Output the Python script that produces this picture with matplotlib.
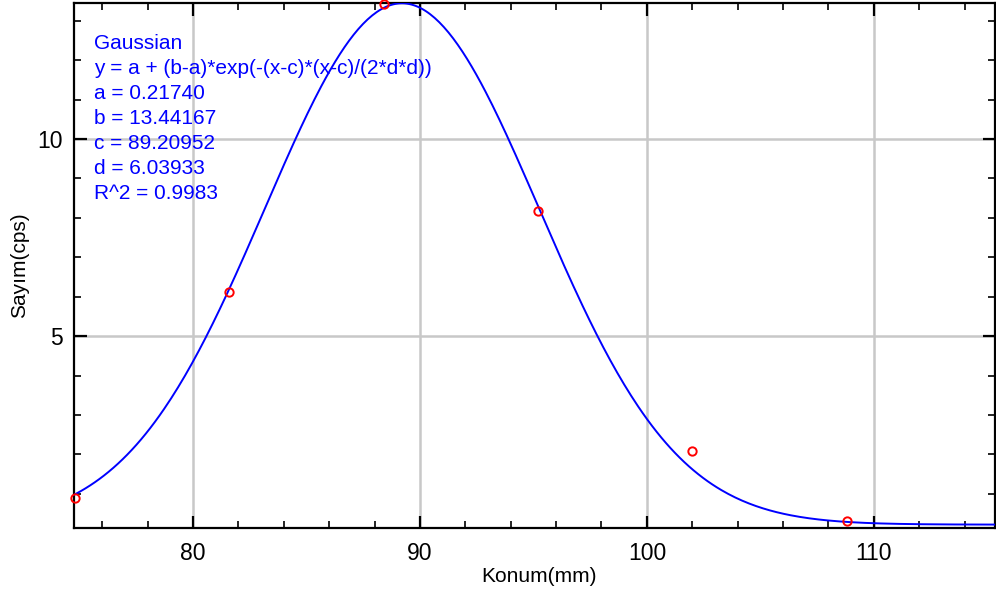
import numpy as np
import matplotlib.pyplot as plt
from matplotlib.ticker import MultipleLocator

plt.rcParams['font.family'] = ['Liberation Sans', 'DejaVu Sans']

# olculen noktalar
konum = [74.8, 81.6, 88.4, 95.2, 102.0, 108.8]
sayim = [0.88, 6.12, 13.43, 8.17, 2.08, 0.30]

# fit parametreleri (grafikteki kutudan)
a, b, c, d = 0.21740, 13.44167, 89.20952, 6.03933
r2 = 0.9983

fig = plt.figure(figsize=(9.96, 5.94), dpi=100)
ax = fig.add_axes([0.0743, 0.111, 0.925, 0.884])

x = np.linspace(74.76, 115.4, 400)
y = a + (b - a) * np.exp(-(x - c) * (x - c) / (2 * d * d))
ax.plot(x, y, color='#0000ff', lw=1.4, zorder=3)
ax.plot(konum, sayim, 'o', mfc='none', mec='#ff0000', ms=6, mew=1.4,
        zorder=4, clip_on=False)

ax.set_xlim(74.76, 115.35)
ax.set_ylim(0.13, 13.45)
ax.xaxis.set_major_locator(MultipleLocator(10))
ax.xaxis.set_minor_locator(MultipleLocator(2))
ax.yaxis.set_major_locator(MultipleLocator(5))
ax.yaxis.set_minor_locator(MultipleLocator(1))
ax.tick_params(which='both', direction='in', top=True, right=True,
               labelsize=16.5, color='black')
ax.tick_params(axis='x', which='major', pad=10)
ax.tick_params(axis='y', which='major', pad=8)
ax.tick_params(which='major', length=9, width=1.6)
ax.tick_params(which='minor', length=5, width=1.2)
ax.grid(True, which='major', color='#c8c8c8', lw=1.8)
ax.set_axisbelow(True)
for s in ax.spines.values():
    s.set_linewidth(1.6)

ax.set_xlabel('Konum(mm)', fontsize=15, labelpad=5)
ax.set_ylabel('Sayım(cps)', fontsize=15)
ax.yaxis.set_label_coords(-0.049, 0.5)
ax.xaxis.set_label_coords(0.505, -0.075)

metin = ['Gaussian',
         'y = a + (b-a)*exp(-(x-c)*(x-c)/(2*d*d))',
         'a = %.5f' % a,
         'b = %.5f' % b,
         'c = %.5f' % c,
         'd = %.5f' % d,
         'R^2 = %.4f' % r2]
ax.text(0.0215, 0.94, '\n'.join(metin), transform=ax.transAxes, va='top',
        ha='left', fontsize=15, color='#0000ff', linespacing=1.39)

fig.savefig('out.png', dpi=100)
